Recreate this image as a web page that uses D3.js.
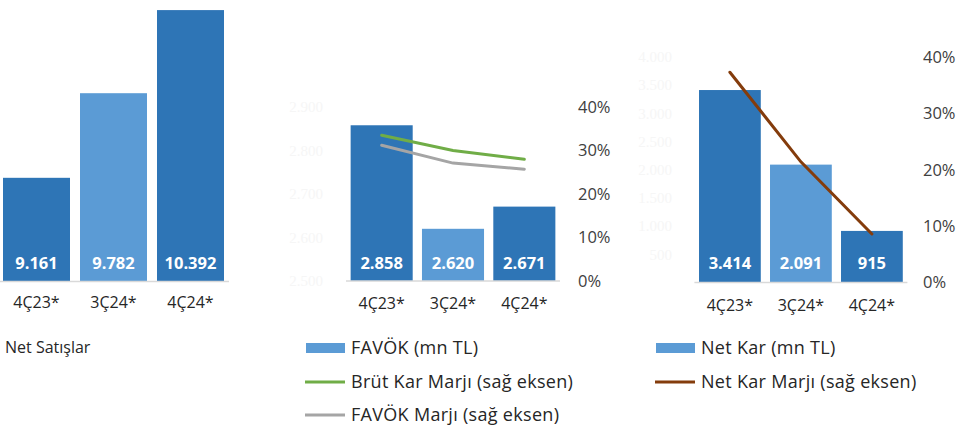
<!DOCTYPE html>
<html>
<head>
<meta charset="utf-8">
<script src="https://cdn.jsdelivr.net/npm/d3@7"></script>
<style>
    body { margin: 0; background: #fff; }
    svg { display: block; font-family: 'Open Sans', sans-serif; }
</style>
</head>
<body>
<svg id="drawing_region"></svg>
<script>
const categories = ['4Ç23*', '3Ç24*', '4Ç24*'];
const netSatislar = [9161, 9782, 10392];
const favok = [2858, 2620, 2671];
const netKar = [3414, 2091, 915];
const brutKarMarji = [33.5, 30.0, 28.0];
const favokMarji = [31.2, 27.1, 25.7];
const netKarMarji = [37.3, 21.4, 8.6];
const favokTicks = [2500, 2600, 2700, 2800, 2900];
const netKarTicks = [500, 1000, 1500, 2000, 2500, 3000, 3500, 4000];
const marginTicks = [0, 10, 20, 30, 40];

const tr = d3.formatLocale({ decimal: ',', thousands: '.', grouping: [3], currency: ['', ''] });
const fmt = tr.format(',d');

const dark = '#2E75B6', light = '#5B9BD5';
const barColor = (d, i) => i === 1 ? light : dark;

const svg = d3.select('#drawing_region')
    .attr('width', 962)
    .attr('height', 426);

class BarPanel {

    constructor( config, values ) {
        this.config = config;
        this.values = values;
        this.init();
    }

    init() {
        let self = this;
        const c = self.config;

        self.g = svg.append('g');

        self.xscale = d3.scaleBand()
            .domain( categories )
            .range( [c.x0, c.x1] )
            .paddingInner(0.13)
            .paddingOuter(0.065);

        self.yscale = d3.scaleLinear()
            .domain( c.domain )
            .range( c.yrange );

        if (c.rdomain) {
            self.rscale = d3.scaleLinear()
                .domain( c.rdomain )
                .range( c.yrange );
        }
    }

    render() {
        let self = this;
        const c = self.config;
        const data = categories.map( (k, i) => ({ k: k, v: self.values[i] }) );

        // faint left axis labels (almost invisible in the original)
        if (c.ghostTicks) {
            self.g.append('g')
                .selectAll('text')
                .data( c.ghostTicks )
                .join('text')
                .attr('x', c.ghostX)
                .attr('y', d => self.yscale(d))
                .attr('dy', '0.35em')
                .attr('text-anchor', 'end')
                .attr('font-family', 'Liberation Serif, serif')
                .attr('font-size', 15)
                .attr('fill', '#f6f6f6')
                .text( d => fmt(d) );
        }

        self.g.selectAll('rect.bar')
            .data( data )
            .join('rect')
            .attr('class', 'bar')
            .attr('x', d => self.xscale(d.k))
            .attr('width', self.xscale.bandwidth())
            .attr('y', d => self.yscale(d.v))
            .attr('height', d => self.yscale(c.domain[0]) - self.yscale(d.v))
            .attr('fill', barColor);

        self.g.append('line')
            .attr('x1', Math.max(0, c.x0)).attr('x2', c.x1)
            .attr('y1', self.yscale(c.domain[0])).attr('y2', self.yscale(c.domain[0]))
            .attr('stroke', '#d9d9d9')
            .attr('stroke-width', 1.5);

        self.g.selectAll('text.val')
            .data( data )
            .join('text')
            .attr('class', 'val')
            .attr('x', d => self.xscale(d.k) + self.xscale.bandwidth() / 2)
            .attr('y', 263)
            .attr('dy', '0.35em')
            .attr('text-anchor', 'middle')
            .attr('font-size', 16.5)
            .attr('font-weight', 700)
            .attr('fill', '#fff')
            .text( d => fmt(d.v) );

        self.g.selectAll('text.cat')
            .data( data )
            .join('text')
            .attr('class', 'cat')
            .attr('x', d => self.xscale(d.k) + self.xscale.bandwidth() / 2)
            .attr('y', c.catY)
            .attr('dy', '0.35em')
            .attr('text-anchor', 'middle')
            .attr('font-size', 16)
            .attr('fill', '#262626')
            .text( d => d.k );

        if (self.rscale) {
            self.g.append('g')
                .selectAll('text')
                .data( marginTicks )
                .join('text')
                .attr('x', c.rightX)
                .attr('y', d => self.rscale(d))
                .attr('dy', '0.35em')
                .attr('font-size', 16.5)
                .attr('fill', '#404040')
                .text( d => d + '%' );

            const line = d3.line()
                .x( (d, i) => self.xscale(categories[i]) + self.xscale.bandwidth() / 2 )
                .y( d => self.rscale(d) );

            c.lines.forEach( l => {
                self.g.append('path')
                    .datum( l.values )
                    .attr('d', line)
                    .attr('fill', 'none')
                    .attr('stroke', l.color)
                    .attr('stroke-width', 3)
                    .attr('stroke-linecap', 'round');
            });
        }
    }
}

new BarPanel({
    x0: -2, x1: 229,
    domain: [8400, 10400], yrange: [281.5, 9],
    catY: 302
}, netSatislar).render();

new BarPanel({
    x0: 346, x1: 560,
    domain: [2500, 2900], rdomain: [0, 40], yrange: [281, 107],
    ghostTicks: favokTicks, ghostX: 323,
    rightX: 578, catY: 303,
    lines: [
        { values: brutKarMarji, color: '#70AD47' },
        { values: favokMarji, color: '#A5A5A5' }
    ]
}, favok).render();

new BarPanel({
    x0: 694.4, x1: 907.4,
    domain: [0, 4000], rdomain: [0, 40], yrange: [282.5, 57],
    ghostTicks: netKarTicks, ghostX: 672,
    rightX: 923, catY: 305,
    lines: [
        { values: netKarMarji, color: '#843C0C' }
    ]
}, netKar).render();

// legends
svg.append('text')
    .attr('x', 5).attr('y', 347).attr('dy', '0.35em')
    .attr('font-size', 16).attr('fill', '#262626')
    .text('Net Satışlar');

const legends = [
    { x: 306, y: 348, type: 'rect', color: light, label: 'FAVÖK (mn TL)' },
    { x: 306, y: 382, type: 'line', color: '#70AD47', label: 'Brüt Kar Marjı (sağ eksen)' },
    { x: 306, y: 415, type: 'line', color: '#A5A5A5', label: 'FAVÖK Marjı (sağ eksen)' },
    { x: 656, y: 348, type: 'rect', color: light, label: 'Net Kar (mn TL)' },
    { x: 656, y: 382, type: 'line', color: '#843C0C', label: 'Net Kar Marjı (sağ eksen)' }
];

const lg = svg.append('g').selectAll('g')
    .data( legends )
    .join('g')
    .attr('transform', d => `translate(${d.x}, ${d.y})`);

lg.filter( d => d.type === 'rect' ).append('rect')
    .attr('x', 0).attr('y', -5).attr('width', 39).attr('height', 10)
    .attr('fill', d => d.color);

lg.filter( d => d.type === 'line' ).append('line')
    .attr('x1', -1).attr('x2', 39).attr('y1', 0).attr('y2', 0)
    .attr('stroke', d => d.color).attr('stroke-width', 3);

lg.append('text')
    .attr('x', 45).attr('dy', '0.35em')
    .attr('font-size', 18).attr('letter-spacing', 0.3).attr('fill', '#262626')
    .text( d => d.label );
</script>
</body>
</html>
